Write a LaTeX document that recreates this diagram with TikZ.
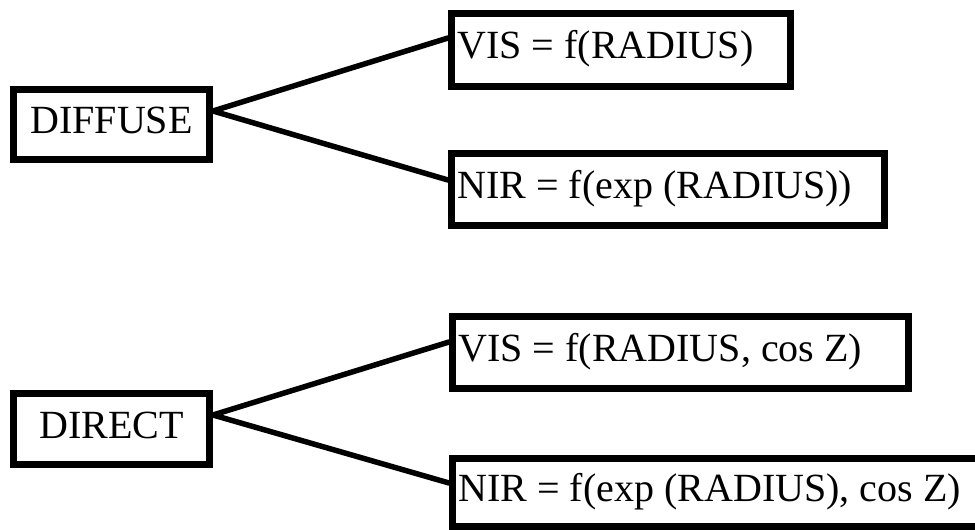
\documentclass[tikz,border=0pt]{standalone}
\usepackage{fontspec}
\setmainfont{Liberation Serif}
\newcommand\myboxfont{\fontsize{40}{48}\selectfont}
\newcommand\lefttext[2]{\makebox[#1][l]{#2}}
\begin{document}
\begin{tikzpicture}[x=1pt,y=-1pt,
  box/.style={draw=black, line width=7pt, fill=white, rectangle, inner xsep=6pt, inner ysep=0pt,
    text height=28pt, text depth=10pt, font=\myboxfont},
  link/.style={draw=black, line width=5.5pt, line cap=round, line join=round}]
\useasboundingbox (0,0) rectangle (975,530);
% left boxes
\node[box, minimum width=196pt, minimum height=70pt] (dif) at (111.5,124) {DIFFUSE};
\node[box, minimum width=196pt, minimum height=71pt] (dir) at (111.5,429) {DIRECT};
% right boxes
\node[box, minimum width=339pt, minimum height=73pt] (vis1) at (621,49.5) {\lefttext{327pt}{VIS = f(RADIUS)}};
\node[box, minimum width=433pt, minimum height=72pt] (nir1) at (668,189.5) {\lefttext{421pt}{NIR = f(exp (RADIUS))}};
\node[box, minimum width=456pt, minimum height=72pt] (vis2) at (680.5,352.5) {\lefttext{444pt}{VIS = f(RADIUS, cos Z)}};
\node[box, minimum width=544pt, minimum height=68pt] (nir2) at (724.5,492.5) {\lefttext{532pt}{NIR = f(exp (RADIUS), cos Z)}};
% connectors
\draw[link] ([yshift=13pt]dif.east) -- ([yshift=11.5pt]vis1.west);
\draw[link] ([yshift=13pt]dif.east) -- ([yshift=9.5pt]nir1.west);
\draw[link] ([yshift=14pt]dir.east) -- ([yshift=10.5pt]vis2.west);
\draw[link] ([yshift=14pt]dir.east) -- ([yshift=9.5pt]nir2.west);
\end{tikzpicture}
\end{document}
